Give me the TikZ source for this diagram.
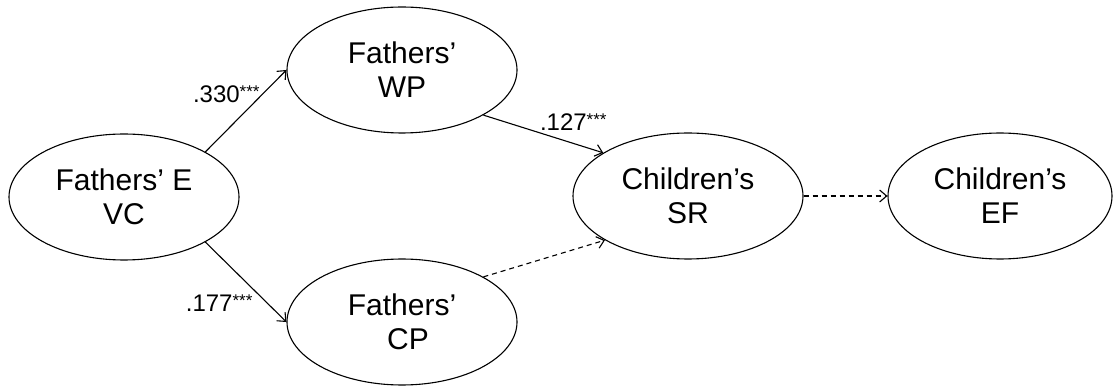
\documentclass[tikz,border=0pt]{standalone}
\usepackage{fontspec}
\setmainfont{Liberation Sans}
\usetikzlibrary{shapes.geometric,arrows.meta}
\newcommand{\stars}{\raisebox{5pt}{\fontsize{17}{17}\selectfont ***}}

\begin{document}
\begin{tikzpicture}[x=1pt,y=-1pt,line width=1.1pt,
  var/.style={ellipse,draw,minimum width=230pt,minimum height=126pt,inner sep=0pt,align=center,font=\fontsize{30}{34}\selectfont},
  sig/.style={-{Straight Barb[length=7pt,width=12pt]}},
  nonsig/.style={sig,dash pattern=on 5pt off 4pt},
  coef/.style={font=\fontsize{24}{24}\selectfont,inner sep=2pt}]
  \useasboundingbox (0,0) rectangle (1113,387);
  \node[var] (vc) at (124,197) {Fathers’ E\\VC};
  \node[var] (wp) at (402,70) {Fathers’\\WP};
  \node[var] (cp) at (402,322) {Fathers’\\\hspace*{0.4em}CP};
  \node[var] (sr) at (688,196) {Children’s\\SR};
  \node[var,minimum width=224pt] (ef) at (1000,196) {Children’s\\EF};
  \draw[sig] (vc.29) -- (wp.west) node[coef,pos=0.7,left] (b1) {.330\stars};
  \draw[sig] (vc.-29) -- (cp.west) node[coef,pos=0.76,left=12pt] (b3) {.177\stars};
  \draw[sig] (wp.-29) -- (sr.153) node[coef,pos=0.75,above=10pt] (b2) {.127\stars};
  \draw[nonsig] (cp.29) -- (sr.208);
  \draw[nonsig] (sr.east) -- (ef.west);
\end{tikzpicture}
\end{document}
